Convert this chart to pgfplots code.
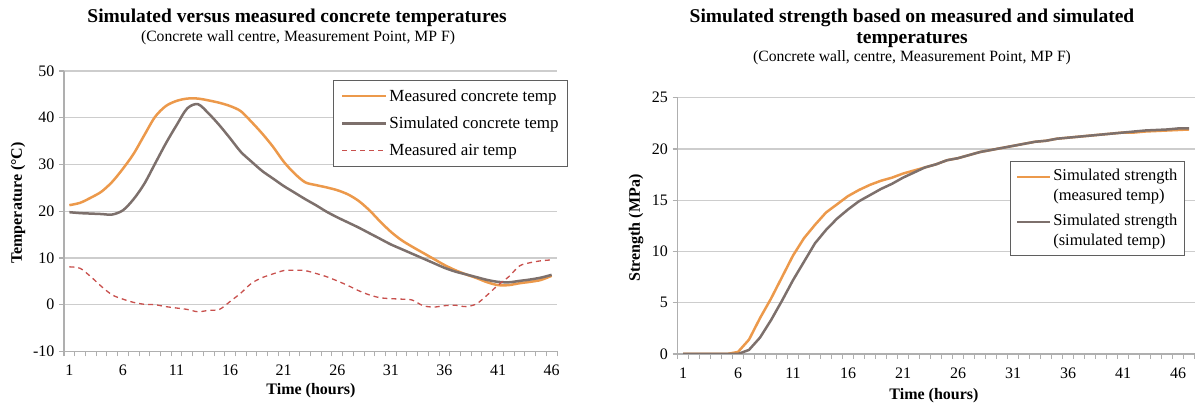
\documentclass[border=0pt]{standalone}
\usepackage{fontspec}
\setmainfont{Liberation Serif}
\usepackage{pgfplots}
\usepackage{pgfplotstable}
\pgfplotsset{compat=1.18}

\definecolor{mconc}{RGB}{236,153,75}
\definecolor{sconc}{RGB}{125,112,108}
\definecolor{mair}{RGB}{200,80,77}
\definecolor{gridc}{RGB}{205,205,205}
\definecolor{axc}{RGB}{175,175,175}
\definecolor{legc}{RGB}{95,95,95}

% hour, measured concrete, simulated concrete, measured air
\pgfplotstableread{
h  mc    sc    air
1  21.3  19.8  8.1
2  21.8  19.6  7.8
3  22.9  19.5  6.0
4  24.2  19.4  3.9
5  26.3  19.3  2.1
6  29.1  20.2  1.2
7  32.3  22.6  0.5
8  36.3  25.9  0.1
9  40.2  30.2  0.0
10 42.5  34.5  -0.4
11 43.6  38.4  -0.7
12 44.1  42.0  -1.0
13 44.1  42.9  -1.5
14 43.7  40.9  -1.2
15 43.2  38.4  -1.0
16 42.5  35.6  0.7
17 41.4  32.7  2.5
18 39.1  30.6  4.6
19 36.6  28.6  5.8
20 33.8  27.0  6.6
21 30.6  25.4  7.3
22 28.1  24.0  7.4
23 26.2  22.6  7.3
24 25.6  21.3  6.7
25 25.1  19.9  6.0
26 24.5  18.7  5.1
27 23.6  17.6  4.1
28 22.2  16.5  3.0
29 20.2  15.3  2.1
30 17.8  14.1  1.5
31 15.6  12.9  1.3
32 13.8  11.9  1.2
33 12.4  10.9  1.0
34 11.1  9.9   -0.2
35 9.8   8.9   -0.5
36 8.5   7.9   -0.2
37 7.4   7.1   -0.1
38 6.5   6.5   -0.4
39 5.7   5.9   0.2
40 4.8   5.3   2.1
41 4.2   4.9   4.2
42 4.2   4.8   6.0
43 4.6   5.1   8.3
44 4.9   5.4   9.0
45 5.3   5.8   9.4
46 6.2   6.4   9.6
}\temps

% hour, strength from measured temp, strength from simulated temp
\pgfplotstableread{
h  sm     ss
1  0      0
2  0      0
3  0      0
4  0      0
5  0      0
6  0.2    0
7  1.4    0.4
8  3.5    1.6
9  5.4    3.3
10 7.5    5.2
11 9.6    7.2
12 11.3   9.0
13 12.6   10.8
14 13.8   12.1
15 14.6   13.2
16 15.4   14.1
17 16.0   14.9
18 16.5   15.5
19 16.9   16.1
20 17.2   16.6
21 17.6   17.2
22 17.9   17.7
23 18.2   18.2
24 18.5   18.5
25 18.9   18.9
26 19.1   19.1
27 19.4   19.4
28 19.7   19.7
29 19.9   19.9
30 20.1   20.1
31 20.3   20.3
32 20.5   20.5
33 20.7   20.7
34 20.8   20.8
35 21.0   21.0
36 21.1   21.1
37 21.2   21.2
38 21.3   21.3
39 21.4   21.4
40 21.5   21.5
41 21.6   21.6
42 21.6   21.7
43 21.7   21.8
44 21.75  21.85
45 21.8   21.9
46 21.85  22.0
47 21.9   22.0
}\strength

\pgfplotsset{
  excel/.style={
    scale only axis, anchor=south west,
    axis x line*=bottom, axis y line*=left,
    axis line style={axc, line width=1.2pt},
    ymajorgrids, grid style={gridc, line width=1.2pt},
    tick align=outside,
    major tick length=5pt, minor tick length=5pt,
    major x tick style={draw=none},
    minor x tick style={axc, line width=1pt},
    major y tick style={axc, line width=1.2pt},
    xtick={1,6,...,46},
    /pgf/number format/assume math mode=true,
    tick label style={font=\fontsize{16}{18}\selectfont, text=black},
    xticklabel style={yshift=-5pt},
    yticklabel style={xshift=-1pt},
    legend cell align=left,
  },
}

\begin{document}
\begin{tikzpicture}[x=1pt,y=1pt]
\useasboundingbox (0pt,0pt) rectangle (1197pt,409pt);

% left chart
\begin{axis}[excel,
    at={(64pt,57.5pt)}, width=493pt, height=280.5pt,
    xmin=0.5, xmax=46.5, ymin=-10, ymax=50,
    ytick={-10,0,...,50},
    minor xtick={0.5,1.5,...,46.5},
    legend style={at={(1.0223,0.968)}, anchor=north east,
      draw=legc, line width=1pt, fill=white,
      inner xsep=7pt, inner ysep=7pt, row sep=10pt,
      font=\fontsize{17}{19}\selectfont},
    legend image code/.code={\draw[#1] (0pt,0pt) -- (44pt,0pt);},
]
\addplot[mconc, line width=2.5pt, smooth] table[x=h, y=mc] {\temps};
\addlegendentry{Measured concrete temp}
\addplot[sconc, line width=2.5pt, smooth] table[x=h, y=sc] {\temps};
\addlegendentry{Simulated concrete temp}
\addplot[mair, line width=1.3pt, smooth, dash pattern=on 5pt off 4pt] table[x=h, y=air] {\temps};
\addlegendentry{Measured air temp}
\end{axis}

% right chart
\begin{axis}[excel,
    at={(677.5pt,55pt)}, width=517pt, height=256.3pt,
    xmin=0.5, xmax=47.5, ymin=0, ymax=25,
    ytick={0,5,...,25},
    minor xtick={0.5,1.5,...,47.5},
    legend style={at={(0.9816,0.753)}, anchor=north east,
      draw=legc, line width=1pt, fill=white,
      inner xsep=5pt, inner ysep=6pt, row sep=8pt,
      cells={align=left},
      font=\fontsize{16.5}{20}\selectfont},
    legend image code/.code={\draw[#1] (0pt,9pt) -- (33pt,9pt);},
]
\addplot[mconc, line width=2.5pt] table[x=h, y=sm] {\strength};
\addlegendentry{Simulated strength\\(measured temp)}
\addplot[sconc, line width=2.5pt] table[x=h, y=ss] {\strength};
\addlegendentry{Simulated strength\\(simulated temp)}
\end{axis}

% titles and axis labels
\node[anchor=base, font=\bfseries\fontsize{19.5}{22}\selectfont] at (297pt,386.5pt)
  {Simulated versus measured concrete temperatures};
\node[anchor=base, font=\fontsize{15.7}{18}\selectfont] at (298pt,367pt)
  {(Concrete wall centre, Measurement Point, MP F)};
\node[anchor=base, font=\bfseries\fontsize{19.5}{22}\selectfont] at (912pt,386.5pt)
  {Simulated strength based on measured and simulated};
\node[anchor=base, font=\bfseries\fontsize{19.5}{22}\selectfont] at (912pt,365.5pt)
  {temperatures};
\node[anchor=base, font=\fontsize{15.7}{18}\selectfont] at (912pt,347pt)
  {(Concrete wall, centre, Measurement Point, MP F)};

\node[anchor=base, font=\bfseries\fontsize{16}{18}\selectfont] at (311pt,14pt) {Time (hours)};
\node[anchor=base, font=\bfseries\fontsize{16}{18}\selectfont] at (934pt,9pt) {Time (hours)};
\node[rotate=90, font=\bfseries\fontsize{16}{18}\selectfont] at (18pt,206pt) {Temperature (°C)};
\node[rotate=90, font=\bfseries\fontsize{16}{18}\selectfont] at (636pt,181pt) {Strength (MPa)};
\end{tikzpicture}
\end{document}
